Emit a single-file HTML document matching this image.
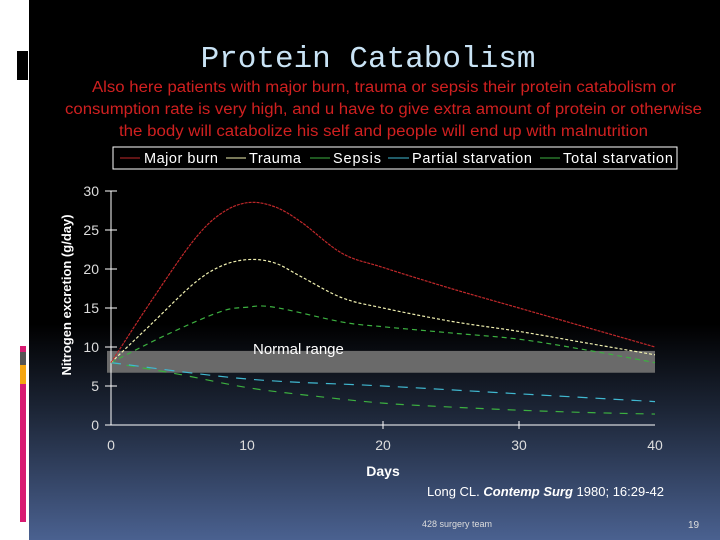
<!DOCTYPE html>
<html><head><meta charset="utf-8"><style>
body{margin:0;width:720px;height:540px;overflow:hidden;background:#fff;font-family:"Liberation Sans",sans-serif}
#bg{position:absolute;left:29px;top:0;width:691px;height:540px;background:linear-gradient(#000 0%,#000 60%,#1c2536 76%,#4a6190 100%)}
</style></head><body>
<div id="bg"></div>
<div style="position:absolute;left:17px;top:51px;width:11px;height:29px;background:#000"></div>
<div style="position:absolute;left:20px;top:346px;width:6px;height:176px;background:linear-gradient(#d81b72 0,#d81b72 6px,#555 6px,#555 19px,#f5a612 19px,#f5a612 38px,#d81b72 38px)"></div>
<svg width="720" height="540" style="position:absolute;left:0;top:0" font-family="Liberation Sans, sans-serif">
<text x="368" y="67" text-anchor="middle" fill="#c9e3f5" font-family="Liberation Mono, monospace" font-size="31">Protein Catabolism</text>
<g fill="#d02020" font-size="15.5">
<text x="92" y="92" textLength="584" lengthAdjust="spacingAndGlyphs">Also here patients with major burn, trauma or sepsis their protein catabolism or</text>
<text x="65" y="114" textLength="637" lengthAdjust="spacingAndGlyphs">consumption rate is very high, and u have to give extra amount of protein or otherwise</text>
<text x="119" y="136" textLength="529" lengthAdjust="spacingAndGlyphs">the body will catabolize his self and people will end up with malnutrition</text>
</g>
<g>
<rect x="113" y="147" width="564" height="22" fill="none" stroke="#fff" stroke-width="1"/>
<g font-size="14.5" fill="#fff">
<line x1="120" y1="158" x2="140" y2="158" stroke="#c0282a"/><text x="144" y="163" textLength="74">Major burn</text>
<line x1="226" y1="158" x2="246" y2="158" stroke="#f0f0b0"/><text x="249" y="163" textLength="52">Trauma</text>
<line x1="310" y1="158" x2="330" y2="158" stroke="#3cb040"/><text x="333" y="163" textLength="48">Sepsis</text>
<line x1="388" y1="158" x2="409" y2="158" stroke="#40b8d0"/><text x="412" y="163" textLength="120">Partial starvation</text>
<line x1="540" y1="158" x2="560" y2="158" stroke="#3cb040"/><text x="563" y="163" textLength="110">Total starvation</text>
</g></g>
<g id="chart"></g>
<text transform="translate(71,295) rotate(-90)" text-anchor="middle" fill="#fff" font-size="13" font-weight="bold">Nitrogen excretion (g/day)</text>
<text x="383" y="476" text-anchor="middle" fill="#fff" font-size="14" font-weight="bold">Days</text>
<text x="427" y="496" fill="#fff" font-size="13">Long CL. <tspan font-style="italic" font-weight="bold">Contemp Surg</tspan> 1980; 16:29-42</text>
<text x="422" y="527" fill="#ddd" font-size="9">428 surgery team</text>
<text x="688" y="528" fill="#ddd" font-size="10">19</text>
</svg>
<script>
const yTicks=[0,5,10,15,20,25,30];
const xTicks=[0,10,20,30,40];
const burnDays=[0,3,6,8,10,12,14,17,20,25,30,35,40];
const burnVals=[8,16,23.5,27,28.5,28,26,22,20.2,17.5,15,12.5,10];
const traumaDays=[0,3,6,8,10,12,14,17,20,25,30,35,40];
const traumaVals=[8,13,18,20.3,21.2,20.8,19,16.3,15,13.3,12,10.5,9];
const sepsisDays=[0,4,8,10,12,17,20,25,30,35,40];
const sepsisVals=[8,11.5,14.5,15.1,15.1,13.2,12.6,11.8,11,9.6,8];
const partialDays=[0,10,20,30,40];
const partialVals=[8,5.9,5,4,3];
const totalDays=[0,5,10,15,20,25,30,35,40];
const totalVals=[8,6.5,4.8,3.7,2.8,2.3,1.9,1.6,1.4];
const normalRange=[6.7,9.5];
const X=d=>111+d*13.6, Y=v=>425-v*7.8;
const NS='http://www.w3.org/2000/svg';
const g=document.getElementById('chart');
function mk(t,a){const e=document.createElementNS(NS,t);for(const k in a)e.setAttribute(k,a[k]);g.appendChild(e);return e;}
const band=mk('rect',{x:107,y:Y(normalRange[1]),width:X(40)-107,height:Y(normalRange[0])-Y(normalRange[1]),fill:'#6a6a6a'});


const nl=mk('text',{x:253,y:354,fill:'#fff','font-size':15});nl.textContent='Normal range';


const ax=mk('path',{d:`M${X(0)} ${Y(30)}V${Y(0)}H${X(40)}`,stroke:'#fff',fill:'none'});


yTicks.forEach(v=>{mk('line',{x1:105,x2:117,y1:Y(v),y2:Y(v),stroke:'#fff'});
const t=mk('text',{x:99,y:Y(v)+5,'text-anchor':'end',fill:'#ddd','font-size':14});t.textContent=v;

});
xTicks.forEach(d=>{if(d==20||d==30)mk('line',{x1:X(d),x2:X(d),y1:Y(0)-4,y2:Y(0)+4,stroke:'#fff'});
const t=mk('text',{x:X(d),y:450,'text-anchor':'middle',fill:'#ddd','font-size':14});t.textContent=d;

});
function path(ds,vs){const p=ds.map((d,i)=>[X(d),Y(vs[i])]);let s=`M${p[0][0]} ${p[0][1]}`;
for(let i=0;i<p.length-1;i++){const a=p[Math.max(0,i-1)],b=p[i],c=p[i+1],e=p[Math.min(p.length-1,i+2)];
s+=`C${b[0]+(c[0]-a[0])/6} ${b[1]+(c[1]-a[1])/6} ${c[0]-(e[0]-b[0])/6} ${c[1]-(e[1]-b[1])/6} ${c[0]} ${c[1]}`;}return s;}
const series=[[totalDays,totalVals,'#3cb040','8 8','total-starvation-line'],[partialDays,partialVals,'#40b8d0','10 8','partial-starvation-line'],
[sepsisDays,sepsisVals,'#3cb040','5 4','sepsis-line'],[traumaDays,traumaVals,'#f0f0b0','3 2','trauma-line'],[burnDays,burnVals,'#c0282a','3 1','major-burn-line']];
series.forEach(s=>{const e=mk('path',{d:path(s[0],s[1]),stroke:s[2],'stroke-dasharray':s[3],fill:'none','stroke-width':1.2});

});
</script>
</body></html>
